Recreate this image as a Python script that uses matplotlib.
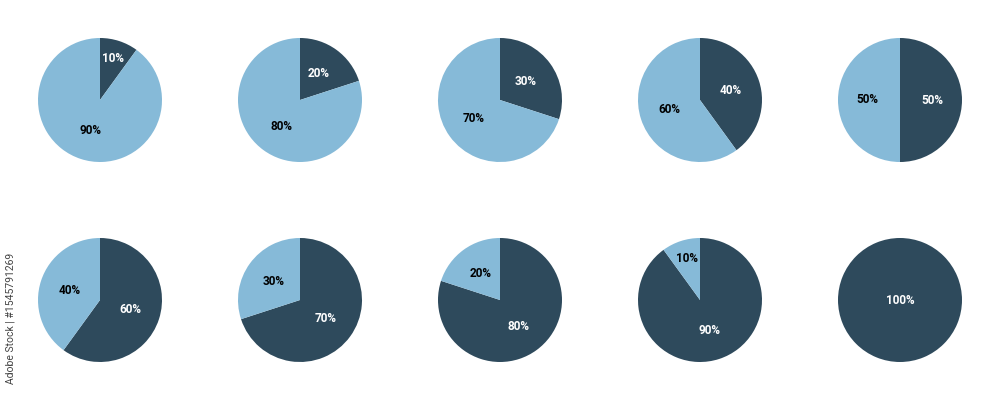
import numpy as np
import matplotlib.pyplot as plt

plt.rcParams['font.family'] = ['Roboto', 'DejaVu Sans']

# dark share of each pie, left to right, top row then bottom row
dark_pct = [10, 20, 30, 40, 50, 60, 70, 80, 90, 100]

dark = '#2e4a5c'
light = '#86bad8'

fig = plt.figure(figsize=(10, 4), dpi=100)

size = 1.24  # inches, pie diameter
for i, d in enumerate(dark_pct):
    row, col = divmod(i, 5)
    cx = 1.0 + 2.0 * col
    cy = 3.0 - 2.0 * row
    ax = fig.add_axes([(cx - size / 2) / 10, (cy - size / 2) / 4, size / 10, size / 4])
    vals = [d, 100 - d] if d < 100 else [d]
    cols = [dark, light][:len(vals)]
    wedges, texts, autotexts = ax.pie(
        vals, colors=cols, startangle=90, counterclock=False,
        autopct='%d%%', pctdistance=0.52 if d < 100 else 0,
        textprops=dict(fontsize=8.5, fontweight='bold'))
    for w, t, v in zip(wedges, autotexts, vals):
        t.set_color('white' if w.get_facecolor()[:3] == plt.matplotlib.colors.to_rgb(dark) else 'black')
        if v <= 10:
            ang = np.deg2rad((w.theta1 + w.theta2) / 2)
            t.set_position((0.7 * np.cos(ang), 0.7 * np.sin(ang)))
    ax.set_xlim(-1, 1)
    ax.set_ylim(-1, 1)
    ax.axis('off')

fig.text(0.011, 0.205, 'Adobe Stock | #1545791269', rotation=90, fontsize=7.5,
         color='#444444', ha='center', va='center')

fig.savefig('out.png', dpi=100, facecolor='white')
